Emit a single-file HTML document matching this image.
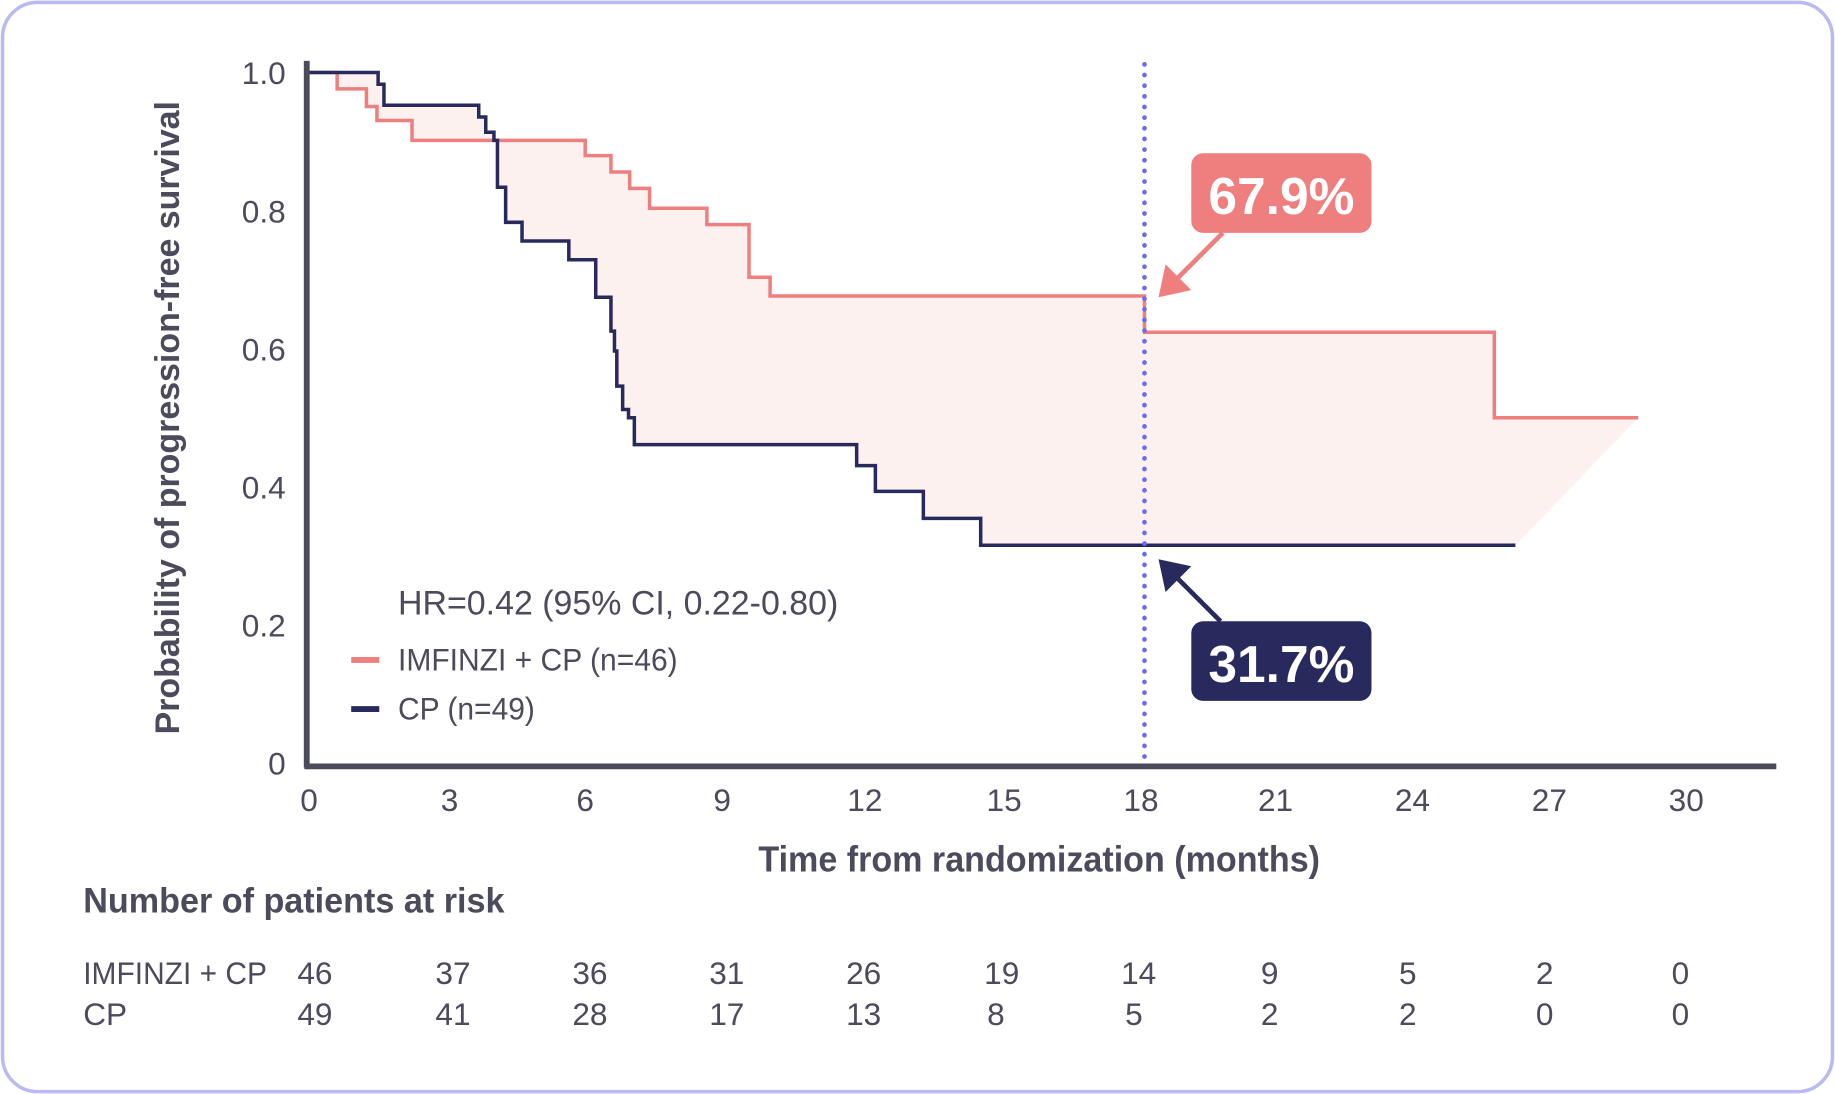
<!DOCTYPE html>
<html><head><meta charset="utf-8"><style>
html,body{margin:0;padding:0;background:#fff;}
svg{display:block;}
text{font-family:"Liberation Sans",sans-serif;}
</style></head><body>
<svg width="1835" height="1094" viewBox="0 0 1568 935" xmlns="http://www.w3.org/2000/svg">
<rect x="2" y="2" width="1564" height="931" rx="30" fill="#fff" stroke="#b9baf2" stroke-width="3"/>
<path d="M262,62 H288 V76 H313 V91 H322 V103 H352 V120 H500 V133 H522 V147 H538 V161 H555 V178 H604 V192 H640 V237 H658 V253 H978 V284 H1277 V357 H1400 L1295,466 H838 V443 H789 V420 H748 V398 H732 V380 H542 V357 H537 V350 H532 V330 H527 V300 H525 V283 H522 V254 H509 V222 H486 V206 H446 V190 H432 V160 H425 V120 H422 V113 H415 V100 H409 V90 H328 V72 H323 V62 Z" fill="#fdf1ef"/>
<path d="M262,62 H288 V76 H313 V91 H322 V103 H352 V120 H500 V133 H522 V147 H538 V161 H555 V178 H604 V192 H640 V237 H658 V253 H978 V284 H1277 V357 H1400" fill="none" stroke="#ef7f7f" stroke-width="3"/>
<path d="M262,62 H323 V72 H328 V90 H409 V100 H415 V113 H422 V120 H425 V160 H432 V190 H446 V206 H486 V222 H509 V254 H522 V283 H525 V300 H527 V330 H532 V350 H537 V357 H542 V380 H732 V398 H748 V420 H789 V443 H838 V466 H1295" fill="none" stroke="#282a5e" stroke-width="3"/>
<line x1="978" y1="55" x2="978" y2="655" stroke="#6b6bf0" stroke-width="4" stroke-dasharray="0.1 9" stroke-linecap="round"/>
<line x1="262" y1="52" x2="262" y2="656" stroke="#4b4b5c" stroke-width="5"/>
<line x1="260" y1="655" x2="1518" y2="655" stroke="#4b4b5c" stroke-width="5"/>
<g font-size="27" fill="#4b4b5c" text-anchor="end">
<text x="244" y="72">1.0</text><text x="244" y="190">0.8</text><text x="244" y="308">0.6</text><text x="244" y="426">0.4</text><text x="244" y="544">0.2</text><text x="244" y="662">0</text>
</g>
<g font-size="27" fill="#4b4b5c" text-anchor="middle">
<text x="264" y="693">0</text><text x="384" y="693">3</text><text x="500" y="693">6</text><text x="617" y="693">9</text><text x="739" y="693">12</text><text x="858" y="693">15</text><text x="975" y="693">18</text><text x="1090" y="693">21</text><text x="1207" y="693">24</text><text x="1324" y="693">27</text><text x="1441" y="693">30</text>
</g>
<text x="648" y="745" font-size="31" font-weight="bold" fill="#4b4b5c" textLength="480" lengthAdjust="spacingAndGlyphs">Time from randomization (months)</text>
<text transform="translate(153,357) rotate(-90)" font-size="29" font-weight="bold" fill="#4b4b5c" text-anchor="middle">Probability of progression-free survival</text>
<text x="340" y="525" font-size="29" fill="#4b4b5c">HR=0.42 (95% CI, 0.22-0.80)</text>
<line x1="300" y1="564" x2="324" y2="564" stroke="#ef7f7f" stroke-width="5"/>
<text x="340" y="573" font-size="27" fill="#4b4b5c" textLength="239" lengthAdjust="spacingAndGlyphs">IMFINZI + CP (n=46)</text>
<line x1="300" y1="606" x2="324" y2="606" stroke="#282a5e" stroke-width="5"/>
<text x="340" y="615" font-size="27" fill="#4b4b5c" textLength="117" lengthAdjust="spacingAndGlyphs">CP (n=49)</text>
<line x1="1045" y1="199" x2="1000" y2="244" stroke="#ef7f7f" stroke-width="4"/>
<polygon points="990,254 996,226 1018,248" fill="#ef7f7f"/>
<rect x="1018" y="131" width="154" height="68" rx="10" fill="#ef7f7f"/>
<text x="1095" y="183" font-size="44" font-weight="bold" fill="#fff" text-anchor="middle">67.9%</text>
<line x1="1043" y1="531" x2="1000" y2="488" stroke="#282a5e" stroke-width="4"/>
<polygon points="990,478 1018,484 996,506" fill="#282a5e"/>
<rect x="1018" y="531" width="154" height="68" rx="10" fill="#282a5e"/>
<text x="1095" y="583" font-size="44" font-weight="bold" fill="#fff" text-anchor="middle">31.7%</text>
<text x="71" y="780" font-size="30" font-weight="bold" fill="#4b4b5c" textLength="360" lengthAdjust="spacingAndGlyphs">Number of patients at risk</text>
<g font-size="27" fill="#4b4b5c">
<text x="71" y="841" textLength="157" lengthAdjust="spacingAndGlyphs">IMFINZI + CP</text><text x="71" y="876">CP</text>
</g>
<g font-size="27" fill="#4b4b5c" text-anchor="middle">
<text x="269" y="841">46</text><text x="387" y="841">37</text><text x="504" y="841">36</text><text x="621" y="841">31</text><text x="738" y="841">26</text><text x="856" y="841">19</text><text x="973" y="841">14</text><text x="1085" y="841">9</text><text x="1203" y="841">5</text><text x="1320" y="841">2</text><text x="1436" y="841">0</text>
<text x="269" y="876">49</text><text x="387" y="876">41</text><text x="504" y="876">28</text><text x="621" y="876">17</text><text x="738" y="876">13</text><text x="851" y="876">8</text><text x="969" y="876">5</text><text x="1085" y="876">2</text><text x="1203" y="876">2</text><text x="1320" y="876">0</text><text x="1436" y="876">0</text>
</g>
</svg>
</body></html>
